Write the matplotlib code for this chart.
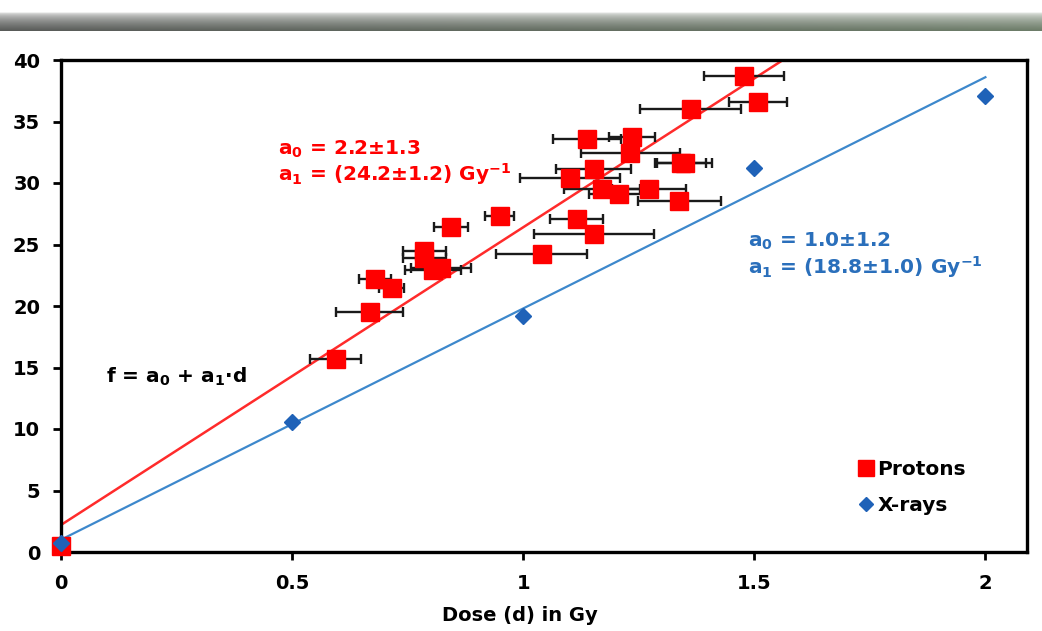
import numpy as np
import matplotlib.pyplot as plt

# data
proton_dose = [0.0, 0.594, 0.668, 0.679, 0.716, 0.786, 0.786, 0.805, 0.823, 0.844,
               0.949, 1.040, 1.116, 1.153, 1.101, 1.153, 1.138, 1.236, 1.232, 1.171,
               1.208, 1.273, 1.338, 1.341, 1.349, 1.362, 1.478, 1.508]
proton_foci = [0.5, 15.7, 19.5, 22.2, 21.5, 24.5, 23.9, 22.9, 23.1, 26.4,
               27.3, 24.2, 27.1, 25.85, 30.4, 31.1, 33.6, 33.7, 32.4, 29.5,
               29.1, 29.5, 28.5, 31.6, 31.6, 36.0, 38.7, 36.6]
proton_err = [0.0, 0.055, 0.072, 0.035, 0.027, 0.046, 0.046, 0.06, 0.065, 0.037,
              0.032, 0.098, 0.057, 0.13, 0.109, 0.081, 0.073, 0.05, 0.107, 0.082,
              0.065, 0.08, 0.09, 0.055, 0.06, 0.11, 0.087, 0.063]

xray_dose = [0.0, 0.5, 1.0, 1.5, 2.0]
xray_foci = [0.7, 10.6, 19.2, 31.2, 37.1]

# fit parameters  f = a0 + a1*d
proton_fit = (2.2, 24.2)
xray_fit = (1.0, 18.8)
proton_fit_range = [0.0, 1.6]
xray_fit_range = [0.0, 2.0]

red = '#ff0000'
red_line = '#ff2b2b'
blue = '#1f62b8'
blue_line = '#3d88cc'
blue_text = '#2a6fbb'

plt.rcParams['font.family'] = ['DejaVu Sans']
plt.rcParams['font.weight'] = 'bold'
plt.rcParams['mathtext.fontset'] = 'custom'
plt.rcParams['mathtext.rm'] = 'DejaVu Sans:bold'
plt.rcParams['mathtext.it'] = 'DejaVu Sans:bold'
plt.rcParams['mathtext.bf'] = 'DejaVu Sans:bold'

fig = plt.figure(figsize=(10.42, 6.31), dpi=100)

# grey banner at the top of the slide
bar = fig.add_axes([0, 1 - 31 / 631, 1, 19 / 631])
rows = np.linspace(0, 1, 40) ** 0.5
left_c = np.array([88, 90, 88]) / 255
right_c = np.array([108, 124, 104]) / 255
cols = np.linspace(0, 1, 200)
base = left_c[None, :] * (1 - cols[:, None]) + right_c[None, :] * cols[:, None]
img = 1 - rows[:, None, None] * (1 - base[None, :, :])
bar.imshow(img, aspect='auto', extent=[0, 1, 0, 1])
bar.axis('off')

ax = fig.add_axes([61 / 1042, 1 - 552 / 631, 966 / 1042, 492 / 631])

xa = np.array(proton_fit_range)
ax.plot(xa, proton_fit[0] + proton_fit[1] * xa, color=red_line, lw=1.8, zorder=2)
xb = np.array(xray_fit_range)
ax.plot(xb, xray_fit[0] + xray_fit[1] * xb, color=blue_line, lw=1.6, zorder=2)

ax.errorbar(proton_dose, proton_foci, xerr=proton_err, fmt='none', ecolor='#1a1a1a',
            elinewidth=1.7, capsize=3.6, capthick=1.7, zorder=3)
ax.plot(proton_dose, proton_foci, 's', color=red, ms=13, mec=red, zorder=5,
        clip_on=False, label='Protons', linestyle='none')
ax.plot(xray_dose, xray_foci, 'D', color=blue, ms=8.5, mec=blue, zorder=6,
        clip_on=False, label='X-rays', linestyle='none')

ax.set_xlim(0, 2.09)
ax.set_ylim(0, 40)
ax.set_xticks([0, 0.5, 1, 1.5, 2])
ax.set_xticklabels(['0', '0.5', '1', '1.5', '2'])
ax.set_yticks(range(0, 41, 5))
ax.tick_params(direction='out', length=6, width=2, labelsize=14)
ax.tick_params(axis='x', pad=10)
ax.tick_params(axis='y', pad=9)
for s in ax.spines.values():
    s.set_linewidth(2.4)
    s.set_zorder(4)

ax.set_xlabel('Dose (d) in Gy', fontsize=14, fontweight='bold')
ax.xaxis.set_label_coords((520 - 61) / 966, -0.11)

ax.text(0.4695, 32.3, r'$\mathrm{a_0}$ = 2.2±1.3', color=red, fontsize=14.5)
ax.text(0.4695, 30.2, r'$\mathrm{a_1}$ = (24.2±1.2) Gy$^{-1}$', color=red, fontsize=14.5)
ax.text(1.487, 24.8, r'$\mathrm{a_0}$ = 1.0±1.2', color=blue_text, fontsize=14.5)
ax.text(1.487, 22.6, r'$\mathrm{a_1}$ = (18.8±1.0) Gy$^{-1}$', color=blue_text, fontsize=14.5)
ax.text(0.098, 13.8, r'f = $\mathrm{a_0}$ + $\mathrm{a_1}$·d', color='black', fontsize=14.5)

ax.legend(loc='upper left', bbox_to_anchor=((848 - 61) / 966, (552 - 452) / 492),
          frameon=False, fontsize=14.5, handletextpad=0.05, handlelength=1.0,
          markerscale=0.85, labelspacing=0.85, borderaxespad=0)

fig.savefig('out.png', dpi=100)
